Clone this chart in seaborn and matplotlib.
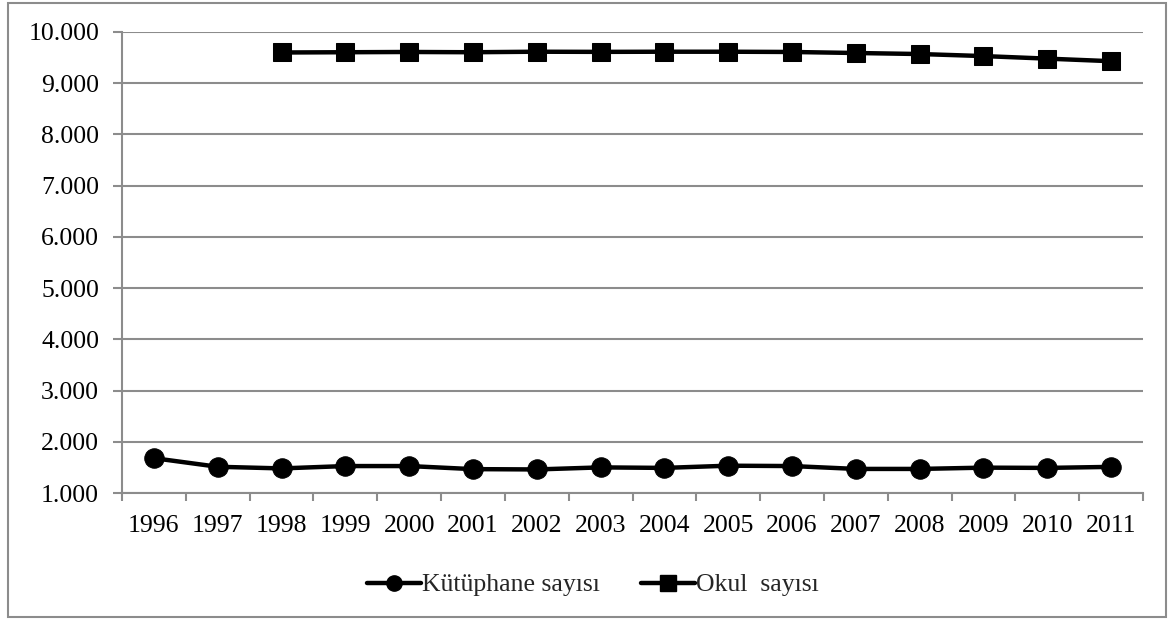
import numpy as np
import pandas as pd
import matplotlib
matplotlib.use("Agg")
import matplotlib.pyplot as plt
import seaborn as sns
from matplotlib.ticker import FuncFormatter, FixedLocator
from matplotlib.patches import Rectangle
from matplotlib.lines import Line2D

years = ["1996", "1997", "1998", "1999", "2000", "2001", "2002", "2003",
         "2004", "2005", "2006", "2007", "2008", "2009", "2010", "2011"]
kutuphane = [1680, 1512, 1480, 1526, 1526, 1466, 1460, 1500,
             1490, 1533, 1526, 1470, 1470, 1495, 1490, 1510]
okul = [np.nan, np.nan, 9600, 9605, 9610, 9605, 9615, 9612,
        9615, 9615, 9610, 9590, 9570, 9530, 9480, 9430]

df = pd.DataFrame({"idx": np.arange(len(years)), "year": years,
                   "Kütüphane sayısı": kutuphane, "Okul  sayısı": okul})

sns.set_theme(style="white")
plt.rcParams["font.family"] = ["Liberation Serif", "DejaVu Serif"]

fig = plt.figure(figsize=(11.74, 6.21), dpi=100)
ax = fig.add_axes([122/1174, 1 - 493/621, (1143-122)/1174, (493-32)/621])

grid_c = "#8c8c8c"
fs = 18.5
sns.lineplot(data=df, x="idx", y="Kütüphane sayısı", ax=ax, color="black",
             linewidth=3.2, marker="o", markersize=14, markeredgecolor="black")
sns.lineplot(data=df.dropna(), x="idx", y="Okul  sayısı", ax=ax, color="black",
             linewidth=3.2, marker="s", markersize=13, markeredgecolor="black")

ax.set_xlim(-0.5, len(years) - 0.5)
ax.set_ylim(1000, 10000)
ax.set_yticks(np.arange(1000, 10001, 1000))
ax.yaxis.set_major_formatter(FuncFormatter(lambda v, p: f"{int(v):,}".replace(",", ".")))
ax.set_xticks(np.arange(len(years)))
ax.set_xticklabels(years)
ax.xaxis.set_minor_locator(FixedLocator(np.arange(-0.5, len(years), 1.0)))
ax.tick_params(axis="x", which="major", length=0, labelsize=fs, pad=16, colors="black")
ax.tick_params(axis="x", which="minor", length=6, width=1.5, color=grid_c, direction="out", bottom=True)
ax.tick_params(axis="y", which="major", length=6.5, width=1.5, color=grid_c, direction="out",
               left=True, labelsize=fs, pad=10, labelcolor="black")
ax.grid(axis="y", color=grid_c, linewidth=1.5)
ax.set_axisbelow(True)
for s in ["top", "right"]:
    ax.spines[s].set_visible(False)
for s in ["left", "bottom"]:
    ax.spines[s].set_color(grid_c)
    ax.spines[s].set_linewidth(1.5)
ax.set_xlabel("")
ax.set_ylabel("")

handles = [Line2D([], [], color="black", linewidth=3.2, marker="o", markersize=11),
           Line2D([], [], color="black", linewidth=3.2, marker="s", markersize=11)]
fig.legend(handles, ["Kütüphane sayısı", "Okul  sayısı"], loc="center",
           bbox_to_anchor=(0.505, 1 - 585/621), ncol=2, frameon=False, fontsize=fs,
           handlelength=2.1, handletextpad=0.05, columnspacing=1.6)

fig.patches.append(Rectangle((8/1174, 1 - 617/621), (1166-8)/1174, (617-3)/621,
                             transform=fig.transFigure, fill=False,
                             edgecolor="#8c8c8c", linewidth=1.5))

fig.savefig("out.png", dpi=100)
